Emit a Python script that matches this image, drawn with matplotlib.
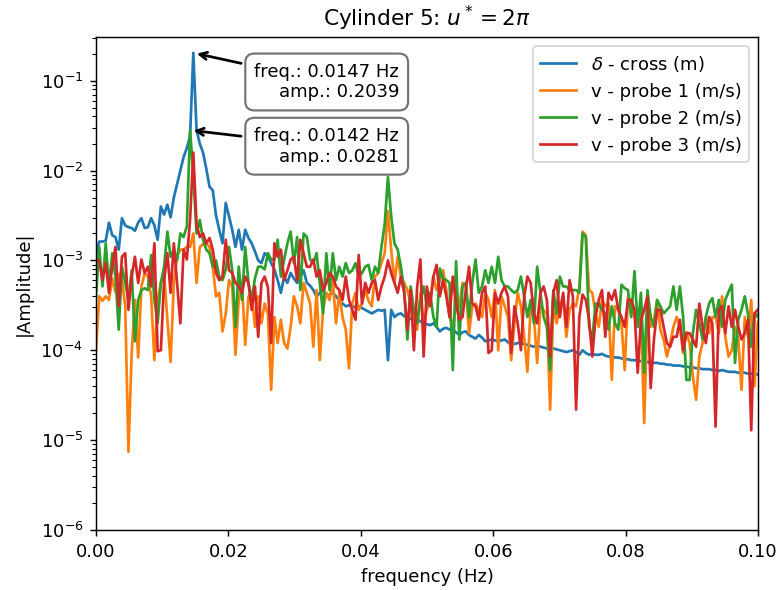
import numpy as np
import matplotlib
matplotlib.use("Agg")
import matplotlib.pyplot as plt

# FFT bin spacing of the spectra (Hz)
df = 0.00049

# log10 of |amplitude| for each spectrum, one value per frequency bin
cross_log10 = [
    -2.95, -2.79, -2.79, -2.78, -2.58, -2.72, -2.74, -2.88, -2.53, -2.61,
    -2.63, -2.64, -2.67, -2.58, -2.53, -2.64, -2.63, -2.53, -2.61, -2.77,
    -2.40, -2.49, -2.38, -2.52, -2.30, -2.15, -2.00, -1.85, -1.75, -1.62,
    -0.69059, -1.55, -1.70, -1.80, -1.98, -2.18, -2.22, -2.50, -2.66, -2.81,
    -2.36, -2.51, -2.66, -2.85, -2.66, -2.88, -2.66, -2.75, -2.81, -2.90,
    -3.00, -3.03, -2.92, -2.95, -3.03, -3.10, -3.22, -3.36, -3.18, -3.25,
    -3.14, -3.20, -3.25, -3.18, -3.11, -3.25, -3.28, -3.33, -3.40, -3.36,
    -3.33, -3.40, -3.38, -3.36, -3.40, -3.45, -3.48, -3.51, -3.50, -3.51,
    -3.52, -3.51, -3.53, -3.55, -3.57, -3.59, -3.57, -3.55, -3.56, -3.55,
    -4.11, -3.55, -3.63, -3.60, -3.59, -3.62, -3.63, -3.65, -3.66, -3.65,
    -3.68, -3.70, -3.71, -3.72, -3.70, -3.74, -3.79, -3.76, -3.75, -3.77,
    -3.77, -3.80, -3.83, -3.80, -3.79, -3.83, -3.85, -3.87, -3.83, -3.86,
    -3.90, -3.89, -3.88, -3.89, -3.90, -3.89, -3.88, -3.91, -3.94, -3.93,
    -3.92, -3.92, -3.93, -3.94, -3.95, -3.96, -3.95, -3.96, -3.97, -3.98,
    -3.97, -3.98, -3.99, -4.00, -4.01, -4.02, -4.01, -4.00, -4.02, -4.05,
    -4.00, -4.03, -4.05, -4.04, -4.05, -4.05, -4.04, -4.06, -4.07, -4.07,
    -4.08, -4.08, -4.09, -4.10, -4.10, -4.11, -4.11, -4.12, -4.12, -4.13,
    -4.13, -4.14, -4.14, -4.14, -4.15, -4.15, -4.16, -4.16, -4.17, -4.17,
    -4.17, -4.18, -4.18, -4.19, -4.19, -4.20, -4.20, -4.21, -4.21, -4.21,
    -4.22, -4.22, -4.23, -4.22, -4.23, -4.24, -4.24, -4.24, -4.25, -4.25,
    -4.25, -4.26, -4.26, -4.26, -4.27, -4.27,
]

probe1_log10 = [
    -4.00, -3.40, -3.45, -3.40, -3.44, -3.20, -3.35, -3.15, -3.22, -3.50,
    -5.13, -4.03, -3.44, -4.08, -3.29, -3.14, -3.18, -3.40, -4.11, -3.44,
    -3.25, -3.14, -3.66, -4.13, -3.25, -2.95, -2.88, -2.88, -2.85, -2.85,
    -2.70, -3.25, -2.85, -2.82, -2.81, -2.85, -3.07, -3.40, -3.36, -3.79,
    -3.59, -3.22, -3.29, -4.05, -3.44, -3.25, -3.94, -3.40, -3.36, -3.74,
    -3.40, -3.70, -3.48, -3.60, -4.44, -3.63, -3.92, -3.66, -3.92, -3.98,
    -3.74, -3.40, -3.51, -3.70, -3.25, -3.36, -3.48, -3.96, -3.33, -4.11,
    -3.55, -3.36, -3.44, -3.22, -3.70, -3.36, -3.63, -3.77, -4.20, -3.48,
    -3.36, -3.55, -3.48, -3.33, -3.45, -3.51, -3.18, -3.14, -3.03, -2.92,
    -2.45, -2.88, -3.25, -2.96, -3.18, -3.25, -3.33, -3.48, -3.63, -3.77,
    -3.36, -3.70, -3.55, -3.45, -3.18, -3.33, -3.22, -3.11, -3.33, -3.63,
    -3.74, -3.50, -3.51, -3.25, -3.29, -3.81, -3.51, -3.48, -3.55, -3.63,
    -3.36, -3.44, -3.63, -3.33, -4.00, -3.40, -3.51, -3.63, -4.11, -3.70,
    -3.36, -3.51, -3.85, -4.24, -3.51, -3.63, -4.14, -3.51, -3.55, -3.60,
    -4.66, -3.48, -3.70, -3.51, -3.40, -3.85, -3.55, -3.48, -3.51, -3.30,
    -2.68, -2.72, -3.33, -3.36, -3.59, -3.74, -3.44, -3.51, -3.48, -4.33,
    -3.51, -3.55, -3.70, -4.22, -3.40, -3.48, -3.63, -3.70, -3.60, -4.81,
    -3.55, -3.74, -3.66, -3.44, -3.77, -3.88, -4.07, -3.92, -3.74, -3.63,
    -3.74, -4.03, -3.80, -3.92, -4.29, -4.55, -4.07, -3.92, -3.63, -3.81,
    -3.63, -3.63, -3.81, -3.40, -3.85, -4.07, -4.00, -3.74, -3.88, -4.44,
    -3.63, -3.85, -3.44, -4.40, -3.70, -3.60,
]

probe2_log10 = [
    -3.40, -2.85, -3.29, -2.81, -3.29, -2.92, -3.18, -3.77, -3.07, -3.25,
    -3.44, -3.11, -3.90, -3.44, -3.33, -3.31, -3.33, -2.94, -3.44, -3.70,
    -3.25, -3.07, -2.68, -2.96, -2.88, -3.00, -2.70, -2.74, -2.62, -1.55129,
    -2.05, -2.70, -2.55, -2.77, -2.88, -2.92, -3.07, -3.00, -3.18, -3.22,
    -3.10, -2.85, -3.11, -3.74, -3.07, -3.44, -2.85, -3.25, -3.44, -3.20,
    -3.07, -3.07, -3.10, -2.92, -2.99, -2.99, -2.77, -3.18, -2.99, -2.81,
    -2.68, -3.03, -2.74, -3.33, -2.70, -2.74, -2.99, -3.03, -2.92, -3.25,
    -3.59, -2.92, -3.33, -2.92, -3.22, -3.07, -3.18, -3.03, -3.14, -3.11,
    -3.03, -3.18, -3.14, -3.07, -3.05, -3.22, -3.07, -3.14, -2.85, -2.60,
    -2.07, -2.51, -2.81, -2.88, -3.07, -3.33, -3.88, -3.29, -3.55, -3.70,
    -3.44, -3.29, -3.51, -3.36, -3.63, -3.74, -3.09, -3.20, -3.22, -3.25,
    -4.22, -3.01, -3.88, -3.29, -3.25, -3.63, -3.25, -2.99, -3.36, -3.29,
    -3.11, -3.25, -3.07, -3.25, -2.96, -3.22, -3.29, -3.29, -3.33, -3.36,
    -3.33, -3.18, -3.40, -3.63, -3.44, -3.70, -3.07, -3.36, -3.63, -3.74,
    -4.22, -3.33, -3.59, -3.18, -3.29, -3.29, -3.33, -3.33, -3.33, -3.36,
    -2.70, -2.74, -3.74, -3.88, -3.48, -3.48, -3.55, -3.59, -3.77, -3.51,
    -3.70, -3.77, -3.27, -3.31, -3.33, -3.63, -3.12, -3.74, -3.36, -4.25,
    -3.33, -3.63, -3.74, -3.44, -3.51, -3.59, -3.55, -3.51, -3.29, -3.55,
    -3.29, -3.63, -4.33, -4.33, -3.81, -3.55, -3.70, -3.88, -3.63, -3.48,
    -3.42, -3.63, -3.44, -3.74, -3.44, -3.35, -3.27, -4.14, -3.66, -3.55,
    -3.40, -3.60, -3.96, -3.59, -3.63, -3.50,
]

probe3_log10 = [
    -3.00, -3.00, -3.22, -3.03, -3.36, -3.07, -2.85, -3.51, -2.96, -2.92,
    -3.55, -3.18, -2.96, -3.25, -2.99, -3.14, -3.07, -3.29, -2.81, -4.01,
    -4.00, -3.22, -2.92, -3.36, -2.81, -3.25, -3.70, -2.88, -2.99, -2.55,
    -1.80, -2.60, -2.74, -2.70, -2.81, -2.75, -2.88, -3.14, -3.22, -3.18,
    -2.77, -3.11, -3.14, -3.25, -3.29, -3.36, -3.18, -3.25, -3.55, -3.29,
    -3.85, -3.25, -3.18, -3.30, -3.92, -2.81, -2.96, -2.88, -3.22, -3.11,
    -2.99, -2.96, -3.22, -2.77, -2.92, -3.07, -3.07, -2.99, -3.18, -3.11,
    -3.33, -3.25, -3.14, -3.18, -3.29, -3.33, -3.44, -3.18, -3.44, -3.55,
    -3.66, -2.94, -3.48, -3.25, -3.36, -3.25, -3.22, -3.44, -3.29, -3.18,
    -3.00, -3.14, -3.25, -3.36, -3.18, -3.36, -3.77, -3.33, -4.00, -3.30,
    -2.99, -4.07, -3.29, -3.51, -3.18, -3.05, -3.40, -3.22, -3.40, -3.63,
    -3.18, -3.48, -3.66, -3.63, -3.33, -3.07, -3.48, -3.51, -3.66, -3.36,
    -3.29, -4.03, -4.00, -3.36, -3.48, -3.36, -3.29, -3.40, -4.03, -3.51,
    -3.70, -4.00, -3.40, -3.18, -3.25, -3.59, -3.70, -3.36, -3.29, -3.44,
    -4.07, -3.36, -3.22, -3.63, -3.36, -3.74, -3.22, -3.40, -4.66, -3.63,
    -3.38, -3.44, -3.66, -4.07, -3.63, -3.44, -3.33, -3.85, -3.36, -3.44,
    -3.33, -3.55, -3.63, -3.74, -3.44, -3.44, -3.55, -4.25, -3.66, -3.55,
    -3.40, -4.42, -3.88, -3.55, -3.55, -3.74, -3.92, -3.96, -3.85, -3.85,
    -3.66, -4.00, -3.81, -3.81, -3.88, -3.96, -3.48, -3.74, -3.92, -3.63,
    -3.70, -4.85, -3.55, -3.51, -3.81, -3.51, -3.74, -3.55, -3.74, -3.88,
    -3.81, -3.66, -4.89, -3.59, -3.55, -3.50,
]

labels = [r"$\delta$ - cross (m)", "v - probe 1 (m/s)",
          "v - probe 2 (m/s)", "v - probe 3 (m/s)"]
title = r"Cylinder 5: $u^*=2\pi$"

series = [np.power(10.0, np.asarray(v)) for v in
          (cross_log10, probe1_log10, probe2_log10, probe3_log10)]

fig = plt.figure(figsize=(781 / 130, 590 / 130), dpi=130)
ax = fig.add_axes([96 / 781, 60 / 590, 662 / 781, 492.7 / 590])

for amp, lab in zip(series, labels):
    freq = np.arange(len(amp)) * df
    ax.plot(freq, amp, label=lab)

ax.set_yscale("log")
ax.set_xlim(0, 0.1)
ax.set_ylim(1e-6, 0.304)
ax.set_xlabel("frequency (Hz)")
ax.set_ylabel("|Amplitude|")
ax.set_title(title)
ax.legend(loc="upper right")

# annotate the dominant peak of the cross-flow displacement and of probe 2
box = dict(boxstyle="round,pad=0.5", fc="w", ec="0.45", lw=1.2)
arrow = dict(arrowstyle="->", color="k", lw=1.5)
for amp, text_pos in ((series[0], (0.03485, 0.0967)),
                      (series[2], (0.03485, 0.01866))):
    i = int(np.argmax(amp))
    f_pk = i * df
    ax.annotate(f"freq.: {f_pk:.4f} Hz\namp.: {amp[i]:.4f}",
                xy=(f_pk, amp[i]), xytext=text_pos, textcoords="data",
                ha="center", va="center", multialignment="right",
                bbox=box, arrowprops=arrow)

fig.savefig("out.png", dpi=130)
